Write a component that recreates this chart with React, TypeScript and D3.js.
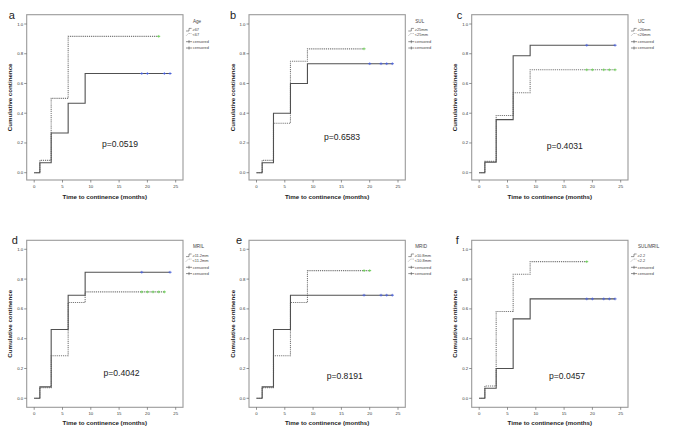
import React from "react";
import * as d3 from "d3";

// ---------- data ----------
const panelLetters = ["a", "b", "c", "d", "e", "f"];
const legendTitles = ["Age", "SUL", "UC", "MRIL", "MRID", "SUL/MRIL"];
const solidLabels = ["\u226567", "\u226525mm", "\u226526mm", "\u226511.2mm", "\u226510.8mm", "\u22652.2"];
const dottedLabels = ["<67", "<25mm", "<26mm", "<11.2mm", "<10.8mm", "<2.2"];
const pValues = ["p=0.0519", "p=0.6583", "p=0.4031", "p=0.4042", "p=0.8191", "p=0.0457"];
const xTicks = [0, 5, 10, 15, 20, 25];
const yTicks = [0, 0.2, 0.4, 0.6, 0.8, 1.0];

const stepTimes = [0, 1, 3, 6, 9];

const aSolid = [0, 0.067, 0.267, 0.467, 0.667];
const aDotted = [0, 0.083, 0.5, 0.917, 0.917];
const aSolidCens = [19, 20, 23, 24];
const aDottedCens = [22];

const bSolid = [0, 0.067, 0.4, 0.6, 0.733];
const bDotted = [0, 0.083, 0.333, 0.75, 0.833];
const bSolidCens = [20, 22, 23, 24];
const bDottedCens = [19];

const cSolid = [0, 0.071, 0.357, 0.786, 0.857];
const cDotted = [0, 0.077, 0.385, 0.538, 0.692];
const cSolidCens = [19, 24];
const cDottedCens = [19, 20, 22, 23, 24];

const dSolid = [0, 0.077, 0.462, 0.692, 0.846];
const dDotted = [0, 0.071, 0.286, 0.643, 0.714];
const dSolidCens = [19, 24];
const dDottedCens = [19, 20, 21, 22, 23];

const eSolid = [0, 0.077, 0.462, 0.692, 0.692];
const eDotted = [0, 0.071, 0.286, 0.643, 0.857];
const eSolidCens = [19, 22, 23, 24];
const eDottedCens = [19, 20];

const fSolid = [0, 0.067, 0.2, 0.533, 0.667];
const fDotted = [0, 0.083, 0.583, 0.833, 0.917];
const fSolidCens = [19, 20, 22, 23, 24];
const fDottedCens = [19];

const solidSeries = [aSolid, bSolid, cSolid, dSolid, eSolid, fSolid];
const dottedSeries = [aDotted, bDotted, cDotted, dDotted, eDotted, fDotted];
const solidCens = [aSolidCens, bSolidCens, cSolidCens, dSolidCens, eSolidCens, fSolidCens];
const dottedCens = [aDottedCens, bDottedCens, cDottedCens, dDottedCens, eDottedCens, fDottedCens];

// ---------- layout ----------
const W = 690;
const H = 434;
const colLeft = [26.7, 249, 471.7];
const boxW = 156.3;
const rowTop = [14.7, 240.3];
const rowH = [165.3, 167];
const rowY0 = [158, 158]; // offset of y=0 from box top
const rowY1 = [9.3, 9]; // offset of y=1 from box top
const pOffX = [93.3, 93, 93, 94.8, 95.7, 95.3];
const pOffY = [132, 125, 134, 135.7, 139, 139];
const letterOffX = [-18, -19, -15, -15, -13, -16];

const FONT = "'Liberation Sans', Arial, Helvetica, sans-serif";
const SOLID_COLOR = "#505050";
const DOTTED_COLOR = "#7a7a7a";
const BLUE = "#4b62d8";
const GREEN = "#6fd05a";

type Pt = { t: number; s: number };

function Panel({ idx }: { idx: number }) {
  const col = idx % 3;
  const row = Math.floor(idx / 3);
  const left = colLeft[col];
  const top = rowTop[row];
  const h = rowH[row];
  const right = left + boxW;
  const bottom = top + h;

  const x = d3.scaleLinear().domain([0, 25]).range([left + 7.5, left + 149]);
  const y = d3.scaleLinear().domain([0, 1]).range([top + rowY0[row], top + rowY1[row]]);

  const line = d3
    .line<Pt>()
    .x((d) => x(d.t))
    .y((d) => y(d.s))
    .curve(d3.curveStepAfter);

  const mk = (vals: number[], cens: number[]): Pt[] => {
    const pts = stepTimes.map((t, i) => ({ t, s: vals[i] }));
    const end = d3.max(cens) as number;
    pts.push({ t: end, s: vals[vals.length - 1] });
    return pts;
  };
  const sPts = mk(solidSeries[idx], solidCens[idx]);
  const dPts = mk(dottedSeries[idx], dottedCens[idx]);
  const sLast = solidSeries[idx][solidSeries[idx].length - 1];
  const dLast = dottedSeries[idx][dottedSeries[idx].length - 1];

  const lx = right + 3;
  const ly = top;

  return (
    <g>
      <text x={left + letterOffX[idx]} y={top + 4} fontSize={11} fontFamily={FONT} fill="#222">
        {panelLetters[idx]}
      </text>
      <rect x={left} y={top} width={boxW} height={h} fill="#fff" stroke="#9a9a9a" strokeWidth={1.1} />
      {/* y axis ticks */}
      {yTicks.map((v) => (
        <g key={"y" + v}>
          <line x1={left - 2.5} x2={left} y1={y(v)} y2={y(v)} stroke="#666" strokeWidth={0.7} />
          <text x={left - 3.5} y={y(v) + 1.5} fontSize={4.3} textAnchor="end" fontFamily={FONT} fill="#333">
            {v.toFixed(1)}
          </text>
        </g>
      ))}
      {/* x axis ticks */}
      {xTicks.map((v) => (
        <g key={"x" + v}>
          <line x1={x(v)} x2={x(v)} y1={bottom} y2={bottom + 2.5} stroke="#666" strokeWidth={0.7} />
          <text x={x(v)} y={bottom + 7.5} fontSize={4.3} textAnchor="middle" fontFamily={FONT} fill="#333">
            {v}
          </text>
        </g>
      ))}
      <text
        x={(left + right) / 2}
        y={bottom + (row === 0 ? 19 : 18)}
        fontSize={6.2}
        fontWeight="bold"
        textAnchor="middle"
        fontFamily={FONT}
        fill="#222"
      >
        Time to continence (months)
      </text>
      <text
        transform={`translate(${left - 14.5},${(top + bottom) / 2}) rotate(-90)`}
        fontSize={6.2}
        fontWeight="bold"
        textAnchor="middle"
        fontFamily={FONT}
        fill="#222"
      >
        Cumulative continence
      </text>
      {/* curves */}
      <path d={line(dPts) || ""} fill="none" stroke={DOTTED_COLOR} strokeWidth={1.1} strokeDasharray="1.2,0.9" />
      <path d={line(sPts) || ""} fill="none" stroke={SOLID_COLOR} strokeWidth={1.1} />
      {/* censor marks */}
      {dottedCens[idx].map((c, i) => (
        <g key={"dc" + i}>
          <line x1={x(c) - 1.5} x2={x(c) + 1.5} y1={y(dLast)} y2={y(dLast)} stroke={GREEN} strokeWidth={1} />
          <line x1={x(c)} x2={x(c)} y1={y(dLast) - 1.4} y2={y(dLast) + 1.4} stroke={GREEN} strokeWidth={0.7} />
        </g>
      ))}
      {solidCens[idx].map((c, i) => (
        <g key={"sc" + i}>
          <line x1={x(c) - 1.5} x2={x(c) + 1.5} y1={y(sLast)} y2={y(sLast)} stroke={BLUE} strokeWidth={1} />
          <line x1={x(c)} x2={x(c)} y1={y(sLast) - 1.4} y2={y(sLast) + 1.4} stroke={BLUE} strokeWidth={0.7} />
        </g>
      ))}
      {/* p value */}
      <text x={left + pOffX[idx]} y={top + pOffY[idx]} fontSize={8.6} textAnchor="middle" fontFamily={FONT} fill="#222">
        {pValues[idx]}
      </text>
      {/* legend */}
      <text x={lx + 7} y={ly + 8} fontSize={4.6} fontFamily={FONT} fill="#444">
        {legendTitles[idx]}
      </text>
      <path
        d={`M${lx},${ly + 16.3} h3 v-2.6 h2.6`}
        fill="none"
        stroke={SOLID_COLOR}
        strokeWidth={0.6}
      />
      <text x={lx + 6.5} y={ly + 16.6} fontSize={3.9} fontFamily={FONT} fill="#444">
        {solidLabels[idx]}
      </text>
      <path
        d={`M${lx},${ly + 21.2} l2.4,-2.4 h3`}
        fill="none"
        stroke={DOTTED_COLOR}
        strokeWidth={0.6}
        strokeDasharray="0.8,0.6"
      />
      <text x={lx + 6.5} y={ly + 21.3} fontSize={3.9} fontFamily={FONT} fill="#444">
        {dottedLabels[idx]}
      </text>
      {[27, 33.3].map((dy, i) => (
        <g key={"lg" + i}>
          <line x1={lx} x2={lx + 6} y1={ly + dy} y2={ly + dy} stroke="#444" strokeWidth={0.6} />
          <line x1={lx + 3} x2={lx + 3} y1={ly + dy - 1.5} y2={ly + dy + 1.5} stroke="#444" strokeWidth={0.6} />
          <text x={lx + 6.8} y={ly + dy + 1.4} fontSize={3.9} fontFamily={FONT} fill="#444">
            censored
          </text>
        </g>
      ))}
    </g>
  );
}

export default function App() {
  return (
    <svg
      width={W}
      height={H}
      viewBox={`0 0 ${W} ${H}`}
      style={{ position: "absolute", left: 0, top: 0, background: "#fff" }}
    >
      <rect x={0} y={0} width={W} height={H} fill="#fff" />
      {panelLetters.map((_, i) => (
        <Panel key={i} idx={i} />
      ))}
    </svg>
  );
}
